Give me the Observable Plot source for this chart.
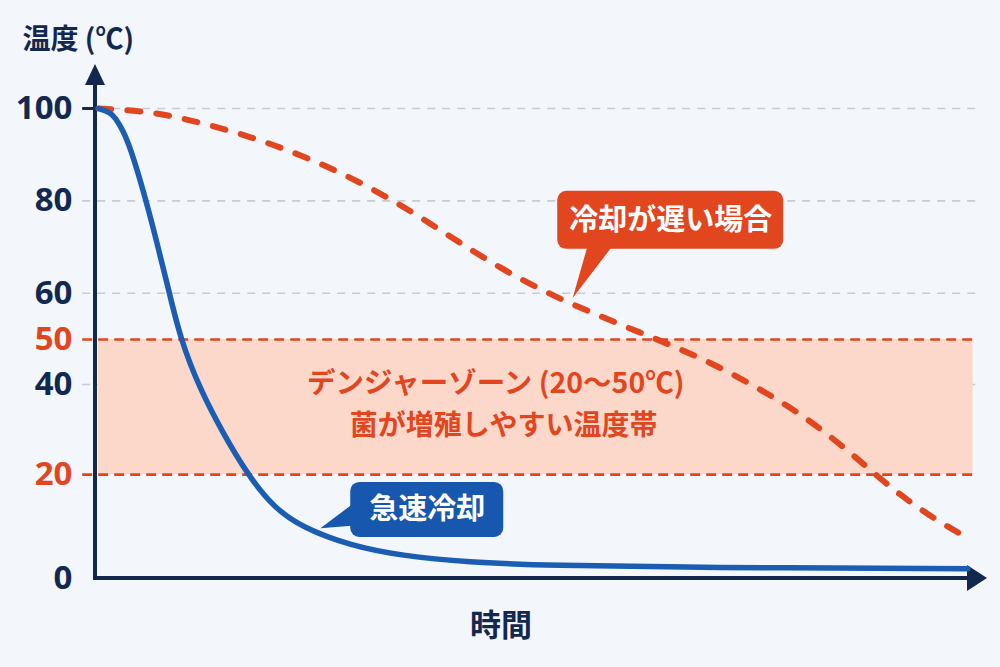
<!DOCTYPE html>
<html><head><meta charset="utf-8">
<script src="https://cdn.jsdelivr.net/npm/d3@7"></script>
<script src="https://cdn.jsdelivr.net/npm/@observablehq/plot@0.6"></script>
<style>
html,body{margin:0;padding:0;background:#f3f6fb;}
#chart{width:1000px;height:667px;overflow:hidden;}
</style></head><body><div id="chart"></div>
<script>
// ---- data ----
const timeFast = [0, 1.4, 1.9, 2.8, 3.6, 5.1, 6.6, 8.0, 9.3, 11.6, 14.2, 16.9, 19.9, 23.2, 28.7, 34.4, 42.0, 51.4, 68.5, 98.9];
const tempFast = [100, 99.1, 98.0, 95.2, 91.6, 82.3, 71.4, 60.6, 50.2, 38.7, 29.1, 20.2, 13.7, 9.8, 6.3, 4.4, 3.1, 2.5, 2.1, 1.9];
const timeSlow = [0, 5.9, 11.6, 17.3, 23.0, 28.7, 34.4, 40.0, 45.7, 51.4, 57.1, 62.8, 68.5, 74.2, 79.9, 85.6, 91.2, 96.9, 98.9];
const tempSlow = [100, 99.4, 97.0, 93.9, 90.0, 85.1, 79.2, 72.3, 65.4, 59.7, 55.0, 50.6, 46.0, 40.2, 33.6, 24.9, 15.8, 9.6, 7.9];
const yTicks = [0, 20, 40, 50, 60, 80, 100];
const gridTicks = [40, 60, 80, 100];
const dangerRange = [20, 50];
const yTitle = "温度 (℃)";
const xTitle = "時間";
const slowLabel = "冷却が遅い場合";
const fastLabel = "急速冷却";
const dangerTitle = "デンジャーゾーン (20〜50℃)";
const dangerNote = "菌が増殖しやすい温度帯";

// ---- styles ----
const NAVY = "#12284f";
const RED = "#e2461f";
const BLUE = "#1a5db3";
const BUBBLE_BLUE = "#1757ae";
const GRID = "#c6ccd5";
const BAND = "#fbd8ca";
const FONT = "'Noto Sans CJK JP', 'Noto Sans', sans-serif";

// the reference's temperature axis is slightly uneven: warp values before the linear scale
const warp = d3.scaleLinear([0, 20, 50, 100], [0, 22.1, 50.85, 100]);

const fast = timeFast.map((t, i) => ({t, temp: tempFast[i]}));
const slow = timeSlow.map((t, i) => ({t, temp: tempSlow[i]}));

const ns = "http://www.w3.org/2000/svg";
function mk(g, tag, attrs) {
  const el = document.createElementNS(ns, tag);
  for (const k in attrs) el.setAttribute(k, attrs[k]);
  g.appendChild(el);
  return el;
}
function yFn(y) {
  const expect = y(0) + (y(100) - y(0)) * warp(50) / 100;
  return Math.abs(y(50) - expect) < 0.5 ? y : v => y(warp(v));
}

// axes with arrowheads
function axes(index, {x, y}) {
  const g = document.createElementNS(ns, "g");
  const Y = yFn(y);
  const ox = x(0) - 3, oy = Y(0);
  const top = Y(100);
  mk(g, "line", {x1: ox, y1: oy + 2, x2: ox, y2: top - 26, stroke: NAVY, "stroke-width": 4});
  mk(g, "path", {d: `M${ox - 10},${top - 23} L${ox},${top - 44} L${ox + 10},${top - 23} Z`, fill: NAVY});
  const right = x(100);
  mk(g, "line", {x1: ox - 2, y1: oy, x2: right - 8, y2: oy, stroke: NAVY, "stroke-width": 4});
  mk(g, "path", {d: `M${right - 10},${oy - 13} L${right + 10},${oy} L${right - 10},${oy + 13} Z`, fill: NAVY});
  return g;
}

// speech bubbles
function bubble(g, cx, cy, w, h, tail, fill) {
  mk(g, "rect", {x: cx - w / 2, y: cy - h / 2, width: w, height: h, rx: 9, fill});
  mk(g, "path", {d: `M${tail[0][0]},${tail[0][1]} L${tail[1][0]},${tail[1][1]} L${tail[2][0]},${tail[2][1]} Z`, fill});
}
function bubbles(index, {x, y}) {
  const g = document.createElementNS(ns, "g");
  const Y = yFn(y);
  let cx = x(65.1), cy = Y(75.8), tx = x(54.0), ty = Y(58.9);
  bubble(g, cx, cy, 226, 58, [[cx - 82, cy + 24], [tx, ty], [cx - 56, cy + 24]], RED);
  cx = x(37.4); cy = Y(13.2); tx = x(25.3); ty = Y(9.6);
  bubble(g, cx, cy, 153, 55, [[cx - 72, cy - 7], [tx, ty], [cx - 72, cy + 16]], BUBBLE_BLUE);
  return g;
}

const chart = Plot.plot({
  width: 1000,
  height: 667,
  margin: 0,
  x: {domain: [0, 100], range: [98, 977], axis: null},
  y: {domain: [0, 100], range: [578, 108], transform: warp, axis: null},
  style: {background: "#f3f6fb", fontFamily: FONT, overflow: "visible"},
  marks: [
    Plot.ruleY(gridTicks, {x1: -1.8, x2: 100.4, stroke: GRID, strokeWidth: 1.6, strokeDasharray: "8,7"}),
    Plot.ruleY([100], {x1: -1.8, x2: -0.2, stroke: NAVY, strokeWidth: 3}),
    Plot.rect([dangerRange], {x1: 0, x2: 99.5, y1: d => d[0], y2: d => d[1], fill: BAND}),
    Plot.ruleY(dangerRange, {x1: -1.8, x2: 99.5, stroke: RED, strokeWidth: 2.6, strokeDasharray: "10,6"}),
    axes,
    Plot.line(slow, {x: "t", y: "temp", stroke: RED, strokeWidth: 6, strokeDasharray: "13,16", strokeLinecap: "round", curve: "basis"}),
    Plot.line(fast, {x: "t", y: "temp", stroke: BLUE, strokeWidth: 5.5, strokeLinecap: "round", curve: "basis"}),
    Plot.text(yTicks, {x: 0, y: d => d, dx: -26, textAnchor: "end", text: d => String(d),
      fill: d => dangerRange.includes(d) ? RED : NAVY, fontSize: 33, fontWeight: 700, fontFamily: "'Noto Sans', sans-serif"}),
    Plot.text([yTitle], {x: 0, y: 100, dx: -76, dy: -68, textAnchor: "start", text: d => d, fill: NAVY, fontSize: 28, fontWeight: 700}),
    Plot.text([xTitle], {x: 45.8, y: 0, dy: 48, text: d => d, fill: NAVY, fontSize: 31, fontWeight: 700}),
    Plot.text([dangerTitle], {x: 45.2, y: 40.2, text: d => d, fill: RED, fontSize: 28.5, fontWeight: 700}),
    Plot.text([dangerNote], {x: 46.1, y: 30.9, text: d => d, fill: RED, fontSize: 28, fontWeight: 700}),
    bubbles,
    Plot.text([slowLabel], {x: 65.1, y: 75.8, text: d => d, fill: "white", fontSize: 29, fontWeight: 700}),
    Plot.text([fastLabel], {x: 37.4, y: 13.2, text: d => d, fill: "white", fontSize: 29, fontWeight: 700})
  ]
});
document.getElementById("chart").appendChild(chart);
</script>
</body></html>
